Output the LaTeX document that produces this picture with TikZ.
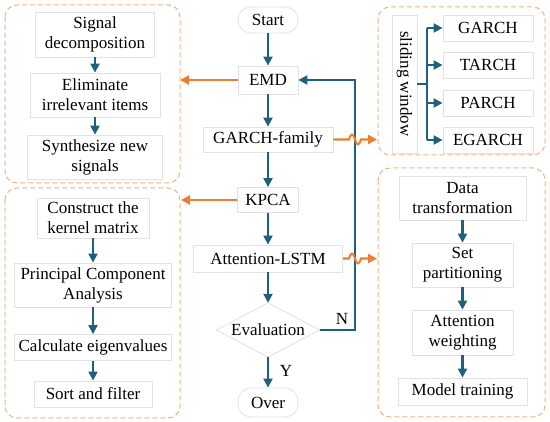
\documentclass[tikz,border=0pt]{standalone}
\usepackage{fontspec}
\setmainfont{Liberation Serif}
\usetikzlibrary{arrows.meta,shapes.geometric}
\definecolor{bl}{HTML}{1F5F80}
\definecolor{orn}{HTML}{ED7D31}
\definecolor{grp}{HTML}{F4B183}
\definecolor{bx}{HTML}{E2E2E2}
\tikzset{
  box/.style={draw=bx,line width=0.8pt,fill=white,inner sep=1pt,align=center,font=\fontsize{17}{20}\selectfont},
  rbox/.style={box,rounded corners=13pt},
  grpbox/.style={draw=grp,line width=1pt,dash pattern=on 5pt off 3pt,rounded corners=12pt},
  barr/.style={draw=bl,line width=2.1pt,-{Triangle[length=9pt,width=9pt]}},
  bline/.style={draw=bl,line width=2.1pt},
  oarr/.style={draw=orn,line width=2.1pt,-{Triangle[length=9pt,width=9pt]}},
  lbl/.style={font=\fontsize{17}{20}\selectfont,inner sep=0pt}
}
\begin{document}
\begin{tikzpicture}[x=1pt,y=-1pt]
\useasboundingbox (0,0) rectangle (550,422);
% groups
\draw[grpbox] (5,5) rectangle (180,183);
\draw[grpbox] (5,188) rectangle (180,418);
\draw[grpbox] (378,7) rectangle (545,155);
\draw[grpbox] (378,168) rectangle (545,417);
% top-left
\node[box,minimum width=119pt,minimum height=45pt] (sig) at (95,34.5) {Signal\\decomposition};
\node[box,minimum width=130pt,minimum height=44pt] (elim) at (95,95) {Eliminate\\irrelevant items};
\node[box,minimum width=135pt,minimum height=44pt] (syn) at (95,157) {Synthesize new\\signals};
\draw[barr] (sig) -- (elim);
\draw[barr] (elim) -- (syn);
% bottom-left
\node[box,minimum width=112pt,minimum height=40pt] (cons) at (93,218) {Construct the\\kernel matrix};
\node[box,minimum width=157pt,minimum height=44pt] (pca) at (93,285) {Principal Component\\Analysis};
\node[box,minimum width=157pt,minimum height=26pt] (calc) at (93,347.5) {Calculate eigenvalues};
\node[box,minimum width=118pt,minimum height=26pt] (sort) at (93,394) {Sort and filter};
\draw[barr] (cons) -- (pca);
\draw[barr] (pca) -- (calc);
\draw[barr] (calc) -- (sort);
% center
\node[rbox,minimum width=60pt,minimum height=26pt] (start) at (268,20) {Start};
\node[box,minimum width=60pt,minimum height=28pt] (emd) at (268,80) {EMD};
\node[box,minimum width=130pt,minimum height=25pt] (garch) at (268,139.5) {GARCH-family};
\node[box,minimum width=61pt,minimum height=25pt] (kpca) at (268,200) {KPCA};
\node[box,minimum width=149pt,minimum height=27pt] (att) at (268,258.5) {Attention-LSTM};
\node[lbl,minimum width=103pt,minimum height=54pt] (eval) at (268,330) {};
\draw[draw=bx,line width=0.8pt,fill=white] (eval.north) -- (eval.east) -- (eval.south) -- (eval.west) -- cycle;
\node[lbl] at (eval.center) {Evaluation};
\node[rbox,minimum width=60pt,minimum height=29pt] (over) at (268,402.5) {Over};
\draw[barr] (start) -- (emd);
\draw[barr] (emd) -- (garch);
\draw[barr] (garch) -- (kpca);
\draw[barr] (kpca) -- (att);
\draw[barr] (att) -- (eval.north);
\draw[barr] (eval.south) -- (over);
\node[lbl] (ylab) at (286,371) {Y};
\coordinate (fbr) at (355,330);
\coordinate (fbt) at (355,80);
\draw[barr] (eval.east) -- (fbr) -- (fbt) -- (emd.east);
\node[lbl] (nlab) at (342,319) {N};
% top-right
\node[box,minimum width=25pt,minimum height=138pt,inner sep=0pt] (sw) at (404.5,84) {};
\node[lbl,rotate=-90] at (sw.center) {sliding window};
\node[box,minimum width=90pt,minimum height=26pt] (g1) at (488,28) {GARCH};
\node[box,minimum width=90pt,minimum height=26pt] (g2) at (488,65) {TARCH};
\node[box,minimum width=90pt,minimum height=26pt] (g3) at (488,103) {PARCH};
\node[box,minimum width=90pt,minimum height=26pt] (g4) at (488,140) {EGARCH};
\coordinate (tr) at (427,84);
\draw[bline] (sw.east |- tr) -- (tr);
\draw[bline] (427,28) -- (427,140);
\foreach \g in {g1,g2,g3,g4}{
  \draw[barr] (tr |- \g.west) -- (\g.west);
}
% bottom-right
\node[box,minimum width=127pt,minimum height=44pt] (data) at (462.5,198) {Data\\transformation};
\node[box,minimum width=101pt,minimum height=44pt] (setp) at (462.5,265) {Set\\partitioning};
\node[box,minimum width=101pt,minimum height=45pt] (attw) at (462.5,332.5) {Attention\\weighting};
\node[box,minimum width=129pt,minimum height=27pt] (model) at (462.5,391.5) {Model training};
\draw[barr] (data) -- (setp);
\draw[barr] (setp) -- (attw);
\draw[barr] (attw) -- (model);
% orange arrows
\coordinate (tl) at (180,80);
\coordinate (bll) at (181,200);
\coordinate (trg) at (377,139.5);
\coordinate (brg) at (377,258.5);
\draw[oarr] (emd.west) -- (tl);
\draw[oarr] (kpca.west) -- (bll);
\draw[oarr] (garch.east) -- (349,139.5) .. controls (351,133) and (353,133) .. (355,139.5) .. controls (357,146) and (359,146) .. (361,139.5) -- (trg);
\draw[oarr] (att.east) -- (349,258.5) .. controls (351,252) and (353,252) .. (355,258.5) .. controls (357,265) and (359,265) .. (361,258.5) -- (brg);
\end{tikzpicture}
\end{document}
